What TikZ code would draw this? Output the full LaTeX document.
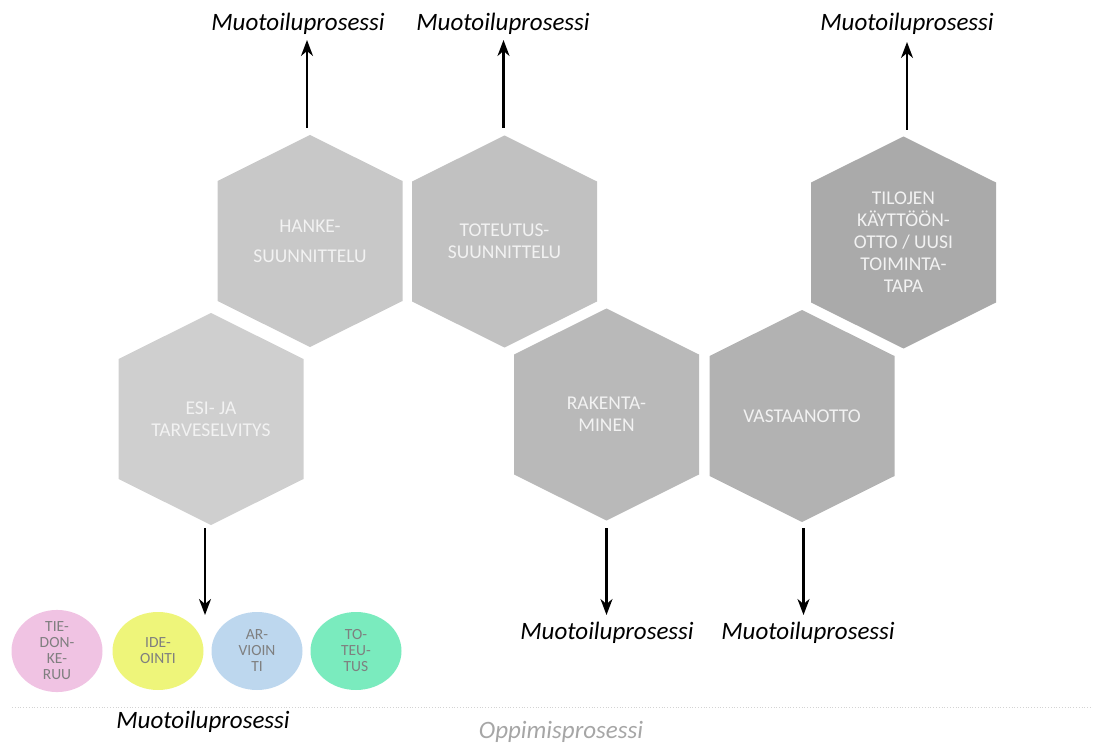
\documentclass[tikz,border=0pt]{standalone}
\usepackage{fontspec}
\setmainfont{Carlito}
\usetikzlibrary{arrows.meta,shapes.geometric}
\definecolor{hexA}{HTML}{CFCFCF}
\definecolor{hexB}{HTML}{C8C8C8}
\definecolor{hexC}{HTML}{C1C1C1}
\definecolor{hexD}{HTML}{B9B9B9}
\definecolor{hexE}{HTML}{B2B2B2}
\definecolor{hexF}{HTML}{AAAAAA}
\definecolor{htext}{HTML}{F2F2F2}
\definecolor{pinkc}{HTML}{F0C3E3}
\definecolor{yellowc}{HTML}{EEF57A}
\definecolor{bluec}{HTML}{BDD7EE}
\definecolor{greenc}{HTML}{7AEBBE}
\definecolor{ctext}{HTML}{7F7F7F}
\definecolor{learn}{HTML}{A6A6A6}
\newcommand\myhex[3]{\fill[#3] (#1,#2-106) -- (#1+92.5,#2-60) -- (#1+92.5,#2+60) -- (#1,#2+106) -- (#1-92.5,#2+60) -- (#1-92.5,#2-60) -- cycle;}
\tikzset{
  hextext/.style={text=htext, align=center, font=\fontsize{19.5}{22}\selectfont, inner sep=0pt},
  circ/.style={ellipse, minimum width=91pt, minimum height=78pt, inner sep=0pt, align=center, text=ctext, font=\fontsize{15.5}{16}\selectfont},
  mlabel/.style={anchor=base, font=\fontsize{25}{28}\itshape\selectfont, text=black, inner sep=0pt},
  arr/.style={line width=2.2pt, -{Stealth[length=16pt,width=12pt,inset=5pt]}}
}
\begin{document}
\begin{tikzpicture}[x=1pt,y=-1pt]
\useasboundingbox (0,0) rectangle (1093,746);
% hexagons
\myhex{211}{419}{hexA}
\myhex{310}{241}{hexB}
\myhex{504.5}{241.5}{hexC}
\myhex{606.5}{414.5}{hexD}
\myhex{802}{416}{hexE}
\myhex{903.5}{242.5}{hexF}
\node[hextext] (esi) at (211,419) {ESI- JA\\TARVESELVITYS};
\node[hextext] (hanke) at (310,241) {HANKE-\\[8pt]SUUNNITTELU};
\node[hextext] (tot) at (504.5,241.5) {TOTEUTUS-\\SUUNNITTELU};
\node[hextext] (rak) at (606.5,414.5) {RAKENTA-\\MINEN};
\node[hextext] (vas) at (802,416) {VASTAANOTTO};
\node[hextext] (til) at (903.5,242.5) {TILOJEN\\KÄYTTÖÖN-\\OTTO / UUSI\\TOIMINTA-\\TAPA};
% labels
\node[mlabel] (m1) at (298,31) {Muotoiluprosessi};
\node[mlabel] (m2) at (503,31) {Muotoiluprosessi};
\node[mlabel] (m3) at (907,31) {Muotoiluprosessi};
\node[mlabel] (m4) at (607,639) {Muotoiluprosessi};
\node[mlabel] (m5) at (808,639) {Muotoiluprosessi};
\node[mlabel] (m6) at (203,728) {Muotoiluprosessi};
\node[mlabel, text=learn] (opp) at (561,738) {Oppimisprosessi};
% arrow coordinates
\coordinate (a1s) at (307,128); \coordinate (a1e) at (307,40);
\coordinate (a2s) at (503.5,128); \coordinate (a2e) at (503.5,40);
\coordinate (a3s) at (907,130); \coordinate (a3e) at (907,42);
\coordinate (a4s) at (205,528); \coordinate (a4e) at (205,615);
\coordinate (a5s) at (606.5,528); \coordinate (a5e) at (606.5,615);
\coordinate (a6s) at (803.5,528); \coordinate (a6e) at (803.5,615);
\draw[arr] (a1s) -- (a1e);
\draw[arr] (a2s) -- (a2e);
\draw[arr] (a3s) -- (a3e);
\draw[arr] (a4s) -- (a4e);
\draw[arr] (a5s) -- (a5e);
\draw[arr] (a6s) -- (a6e);
% circles
\node[circ, fill=pinkc] (c1) at (57,651) {TIE-\\DON-\\KE-\\RUU};
\node[circ, fill=yellowc] (c2) at (158,651) {IDE-\\OINTI};
\node[circ, fill=bluec] (c3) at (257,651) {AR-\\VIOIN\\TI};
\node[circ, fill=greenc] (c4) at (356,651) {TO-\\TEU-\\TUS};
% separator
\coordinate (ls) at (12,707); \coordinate (le) at (1093,707);
\draw[learn!50, dotted, line width=0.8pt] (ls) -- (le);
\end{tikzpicture}
\end{document}
